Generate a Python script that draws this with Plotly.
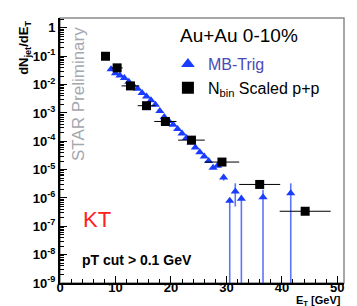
import plotly.graph_objects as go

# ---- data ----
mb_et = [9.2, 10.0, 10.8, 11.6, 12.4, 13.2, 14.0, 14.8, 15.6, 16.4, 17.2, 18.0, 18.8,
         19.6, 20.4, 21.2, 22.0, 22.8, 23.6, 24.4, 25.2, 26.0, 26.8, 27.6, 28.4, 29.5,
         30.6, 31.6, 32.7, 36.6, 41.6]
mb_val = [3.5e-2, 2.5e-2, 2.1e-2, 1.7e-2, 1.26e-2, 9.3e-3, 7.2e-3, 5.1e-3, 3.8e-3, 2.8e-3,
          1.95e-3, 1.17e-3, 7.2e-4, 5.2e-4, 3.8e-4, 2.7e-4, 1.9e-4, 1.3e-4, 9.1e-5, 6.0e-5,
          4.1e-5, 2.9e-5, 2.0e-5, 1.17e-5, 1.38e-5, 5.3e-6,
          7.9e-7, 1.7e-6, 9.3e-7, 1.07e-6, 1.48e-6]
mb_err_up = [0]*25 + [1.5e-6, 0.1e-6, 1.6e-6, 0.36e-6, 0.87e-6, 1.8e-6]
mb_err_dn = [0]*25 + [1.2e-6, None, 1.2e-6, None, None, None]   # None: down to zero

pp_et = [8.2, 10.3, 12.7, 15.6, 19.0, 23.7, 29.2, 36.0, 44.2]
pp_val = [0.1, 0.039, 0.009, 1.8e-3, 5e-4, 1.1e-4, 1.85e-5, 3e-6, 3.4e-7]
pp_xerr = [0.7, 1.0, 1.6, 1.6, 2.0, 2.4, 3.1, 3.7, 4.6]

y_ticks = [1e-9, 1e-8, 1e-7, 1e-6, 1e-5, 1e-4, 1e-3, 1e-2, 1e-1, 1]
y_ticktext = ["10<sup>-9</sup>", "10<sup>-8</sup>", "10<sup>-7</sup>", "10<sup>-6</sup>",
              "10<sup>-5</sup>", "10<sup>-4</sup>", "10<sup>-3</sup>", "10<sup>-2</sup>",
              "10<sup>-1</sup>", "1"]

FONT = "Liberation Sans, Arial, sans-serif"
BLUE = "#1a3cff"

mb_minus = [v - 1e-13 if d is None else d for v, d in zip(mb_val, mb_err_dn)]

fig = go.Figure()
fig.add_trace(go.Scatter(
    x=mb_et, y=mb_val, mode="markers", name="<span style='color:#4a4ab8'>MB-Trig</span>",
    marker=dict(symbol="triangle-up", size=8, color=BLUE),
    error_y=dict(type="data", symmetric=False, array=mb_err_up, arrayminus=mb_minus,
                 color="rgba(40,70,255,0.75)", thickness=1.6, width=0),
))
fig.add_trace(go.Scatter(
    x=pp_et, y=pp_val, mode="markers", name="N<sub>bin</sub> Scaled p+p",
    marker=dict(symbol="square", size=9, color="black"),
    error_x=dict(type="data", array=pp_xerr, color="black", thickness=1, width=0),
))

fig.update_layout(
    width=357, height=306,
    margin=dict(l=52, r=21, t=10, b=31),
    paper_bgcolor="white", plot_bgcolor="white",
    font=dict(family=FONT, color="black"),
    showlegend=True,
    legend=dict(x=0.38, y=0.89, xanchor="left", yanchor="top",
                font=dict(size=16, family=FONT), bgcolor="rgba(0,0,0,0)",
                itemsizing="constant", tracegroupgap=0),
    shapes=[dict(type="rect", xref="paper", yref="paper", x0=0, x1=1, y0=0, y1=1,
                 line=dict(color="#8a8a8a", width=1.5), layer="below")],
)

fig.update_xaxes(
    range=[0, 51.2], showgrid=False, zeroline=False,
    showline=True, linecolor="black", linewidth=2,
    ticks="inside", ticklen=7, tickwidth=1.2, tickcolor="black",
    tickmode="array", tickvals=[0, 10, 20, 30, 40, 50],
    tickfont=dict(size=13, family=FONT, weight="bold"),
    ticklabelstandoff=-9,
    minor=dict(ticks="inside", ticklen=4, tickcolor="black", dtick=2, tick0=0, showgrid=False),
)
fig.update_yaxes(
    type="log", range=[-9, 0.35], showgrid=False, zeroline=False,
    showline=True, linecolor="black", linewidth=2,
    ticks="inside", ticklen=7, tickwidth=1.2, tickcolor="black",
    tickmode="array", tickvals=y_ticks, ticktext=y_ticktext,
    tickfont=dict(size=13, family=FONT, weight="bold"),
    minor=dict(ticks="inside", ticklen=4, tickcolor="black", dtick="D1", showgrid=False),
)

ann = [
    dict(text="<b>dN<sub>jet</sub>/dE<sub>T</sub></b>", x=-0.125, y=0.995, xref="paper", yref="paper",
         xanchor="center", yanchor="top", textangle=-90, showarrow=False, font=dict(size=13)),
    dict(text="<b>E<sub>T</sub> [GeV]</b>", x=0.995, y=-0.069, xref="paper", yref="paper",
         xanchor="right", yanchor="middle", showarrow=False, font=dict(size=11)),
    dict(text="Au+Au 0-10%", x=0.63, y=0.98, xref="paper", yref="paper",
         xanchor="center", yanchor="top", showarrow=False, font=dict(size=19)),
    dict(text="STAR Preliminary", x=0.065, y=0.975, xref="paper", yref="paper",
         xanchor="center", yanchor="top", textangle=-90, showarrow=False,
         font=dict(size=17, color="#a4a7ae")),
    dict(text="KT", x=0.13, y=0.24, xref="paper", yref="paper",
         xanchor="center", yanchor="middle", showarrow=False, font=dict(size=22, color="#ff2020")),
    dict(text="<b>pT cut > 0.1 GeV</b>", x=0.07, y=0.088, xref="paper", yref="paper",
         xanchor="left", yanchor="middle", showarrow=False, font=dict(size=14)),
]
fig.update_layout(annotations=ann)

fig.write_html("out.html")
